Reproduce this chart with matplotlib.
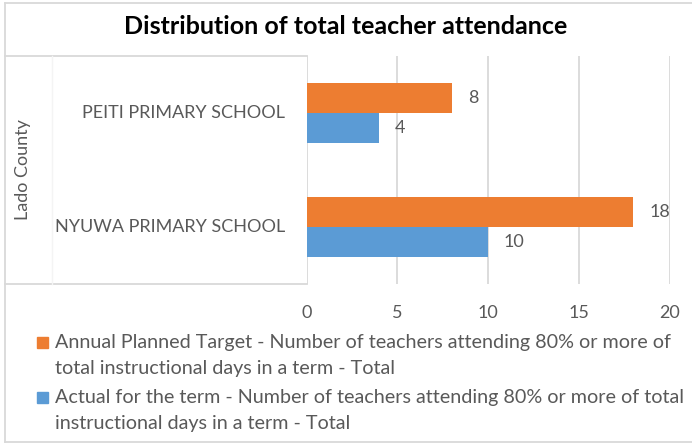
import matplotlib
matplotlib.use("Agg")
import matplotlib.pyplot as plt
from matplotlib.lines import Line2D
from matplotlib.patches import Rectangle

# Data
schools = ["NYUWA PRIMARY SCHOOL", "PEITI PRIMARY SCHOOL"]
county = "Lado County"
planned_target = [18, 8]
actual_term = [10, 4]
series_labels = [
    "Annual Planned Target - Number of teachers attending 80% or more of\ntotal instructional days in a term - Total",
    "Actual for the term - Number of teachers attending 80% or more of total\ninstructional days in a term - Total",
]
x_ticks = [0, 5, 10, 15, 20]
title = "Distribution of total teacher attendance"

ORANGE = "#ED7D31"
BLUE = "#5B9BD5"
TEXT = "#595959"
GRID = "#D9D9D9"
FONT = "Lato"
FS = 13
FS_LEG = 14.2

W, H = 692, 443
fig = plt.figure(figsize=(W / 100, H / 100), dpi=100)


def fx(x):
    return x / W


def fy(y):
    return 1 - y / H


# plot area in pixel coordinates
x0, x1, y_top, y_bot = 306.5, 669.5, 56, 284
ax = fig.add_axes([fx(x0), fy(y_bot), fx(x1) - fx(x0), fy(y_top) - fy(y_bot)])

pos = list(range(len(schools)))
bar_h = 0.263
ax.barh([p + bar_h / 2 for p in pos], planned_target, height=bar_h, color=ORANGE, zorder=3)
ax.barh([p - bar_h / 2 for p in pos], actual_term, height=bar_h, color=BLUE, zorder=3)

for p, v in zip(pos, planned_target):
    ax.annotate(str(v), (v, p + bar_h / 2), xytext=(11.5, 0), textcoords="offset points",
                ha="left", va="center", fontsize=FS, color=TEXT, family=FONT)
for p, v in zip(pos, actual_term):
    ax.annotate(str(v), (v, p - bar_h / 2), xytext=(11.5, 0), textcoords="offset points",
                ha="left", va="center", fontsize=FS, color=TEXT, family=FONT)

ax.set_xlim(x_ticks[0], x_ticks[-1])
ax.set_ylim(-0.5, len(schools) - 0.5)
ax.set_xticks(x_ticks)
ax.set_yticks([])
ax.grid(axis="x", color=GRID, linewidth=1.3, zorder=0)
ax.tick_params(axis="x", length=0, pad=15, labelsize=FS, labelcolor=TEXT)
for lbl in ax.get_xticklabels():
    lbl.set_family(FONT)
for s in ax.spines.values():
    s.set_visible(False)

# category labels
for p, name in zip(pos, schools):
    ax.annotate(name, (0, p), xytext=(-15.5, 0), textcoords="offset points",
                ha="right", va="center", fontsize=FS, color=TEXT, family=FONT,
                annotation_clip=False)
fig.text(fx(23), fy(170), county, rotation=90, ha="center", va="center",
         fontsize=FS, color=TEXT, family=FONT)

# category box lines
line_kw = dict(color=GRID, linewidth=1.3, transform=fig.transFigure)
fig.add_artist(Line2D([fx(5), fx(x0)], [fy(y_top), fy(y_top)], **line_kw))
fig.add_artist(Line2D([fx(5), fx(x0)], [fy(y_bot), fy(y_bot)], **line_kw))
fig.add_artist(Line2D([fx(52), fx(52)], [fy(y_top), fy(y_bot)], color="#F4F4F4",
                      linewidth=1, transform=fig.transFigure))

# outer border (top, left, bottom)
border_kw = dict(color="#D9D9D9", linewidth=1.3, transform=fig.transFigure)
fig.add_artist(Line2D([fx(5), fx(W)], [fy(3), fy(3)], **border_kw))
fig.add_artist(Line2D([fx(5), fx(5)], [fy(3), fy(441.5)], **border_kw))
fig.add_artist(Line2D([fx(5), fx(W)], [fy(441.5), fy(441.5)], **border_kw))

# title
fig.text(0.5, fy(27), title, ha="center", va="center", fontsize=18,
         fontweight="bold", color="black", family=FONT)

# legend: colour square plus two text lines per series
for lab, col, base in [(series_labels[0], ORANGE, 348.3), (series_labels[1], BLUE, 403.3)]:
    fig.add_artist(Rectangle((fx(37.3), fy(base)), 11 / W, 11 / H, color=col,
                             transform=fig.transFigure))
    for i, line in enumerate(lab.split("\n")):
        fig.text(fx(55), fy(base + 26 * i), line, ha="left", va="baseline",
                 fontsize=FS_LEG, color=TEXT, family=FONT)

fig.savefig("out.png", dpi=100)
